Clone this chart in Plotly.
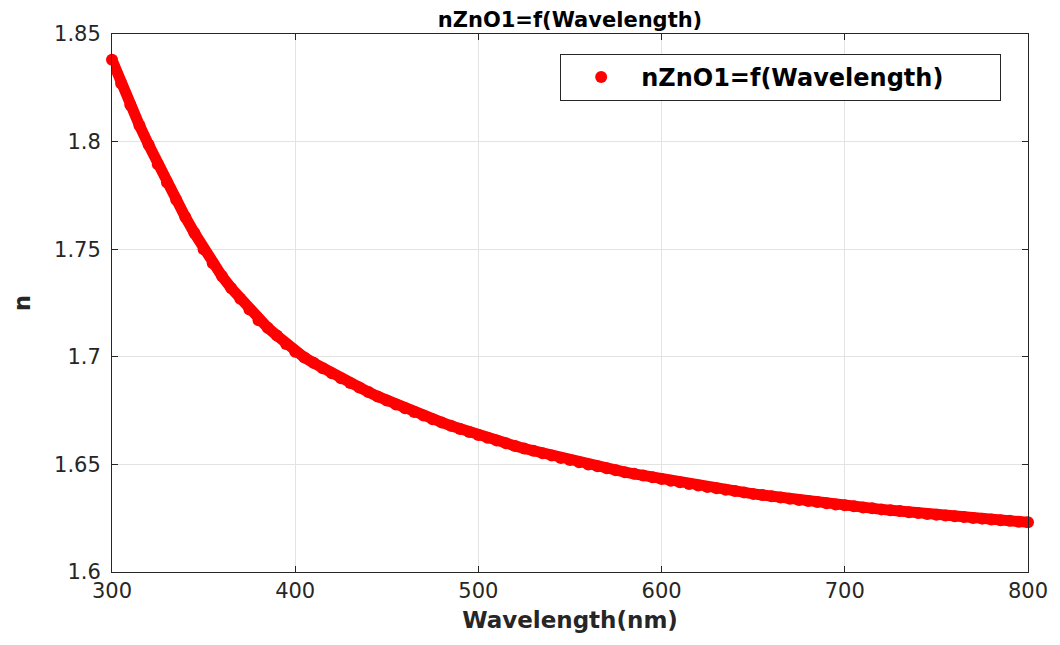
import plotly.graph_objects as go

wavelength = [300, 305, 310, 315, 320, 325, 330, 335, 340, 345,
              350, 355, 360, 365, 370, 375, 380, 385, 390, 395,
              400, 405, 410, 415, 420, 425, 430, 435, 440, 445,
              450, 455, 460, 465, 470, 475, 480, 485, 490, 495,
              500, 505, 510, 515, 520, 525, 530, 535, 540, 545,
              550, 555, 560, 565, 570, 575, 580, 585, 590, 595,
              600, 605, 610, 615, 620, 625, 630, 635, 640, 645,
              650, 655, 660, 665, 670, 675, 680, 685, 690, 695,
              700, 705, 710, 715, 720, 725, 730, 735, 740, 745,
              750, 755, 760, 765, 770, 775, 780, 785, 790, 795,
              800]

n_zno = [1.8380, 1.8270, 1.8170, 1.8075, 1.7985, 1.7895, 1.7810, 1.7730, 1.7650, 1.7575,
         1.7500, 1.7435, 1.7375, 1.7320, 1.7270, 1.7220, 1.7170, 1.7135, 1.7099, 1.7060,
         1.7024, 1.6997, 1.6972, 1.6947, 1.6923, 1.6900, 1.6878, 1.6857, 1.6836, 1.6816,
         1.6797, 1.6778, 1.6761, 1.6743, 1.6727, 1.6710, 1.6695, 1.6680, 1.6665, 1.6651,
         1.6637, 1.6624, 1.6611, 1.6598, 1.6586, 1.6574, 1.6563, 1.6552, 1.6541, 1.6530,
         1.6520, 1.6510, 1.6500, 1.6491, 1.6482, 1.6473, 1.6464, 1.6456, 1.6448, 1.6440,
         1.6432, 1.6424, 1.6417, 1.6409, 1.6402, 1.6395, 1.6389, 1.6382, 1.6376, 1.6370,
         1.6363, 1.6358, 1.6352, 1.6346, 1.6340, 1.6335, 1.6330, 1.6325, 1.6319, 1.6314,
         1.6310, 1.6305, 1.6300, 1.6296, 1.6291, 1.6287, 1.6283, 1.6278, 1.6274, 1.6270,
         1.6266, 1.6262, 1.6259, 1.6255, 1.6251, 1.6248, 1.6244, 1.6241, 1.6238, 1.6234,
         1.6231]

x_ticks = [300, 400, 500, 600, 700, 800]
y_ticks = [1.6, 1.65, 1.7, 1.75, 1.8, 1.85]
y_tick_text = ["1.6", "1.65", "1.7", "1.75", "1.8", "1.85"]

series_name = "nZnO1=f(Wavelength)"
title_text = "nZnO1=f(Wavelength)"
x_title = "Wavelength(nm)"
y_title = "n"

RED = "#ff0000"
AX = "#262626"
GRID = "#e3e3e3"
FONT = "DejaVu Sans"

W, H = 1052, 637  # page body adds an 8px margin

fig = go.Figure()
fig.add_trace(go.Scatter(
    x=wavelength, y=n_zno, mode="lines",
    line=dict(color=RED, width=11),
    showlegend=False, hoverinfo="skip",
))
fig.add_trace(go.Scatter(
    x=wavelength, y=n_zno, mode="markers",
    marker=dict(color=RED, size=12, line=dict(width=0)),
    name=series_name, cliponaxis=False,
))

fig.update_layout(
    width=W, height=H,
    margin=dict(l=104, r=24, t=26, b=73),
    paper_bgcolor="white", plot_bgcolor="white",
    title=dict(text=title_text, x=0.5, xref="paper",
               y=1 - 12 / H, yref="container", yanchor="middle", xanchor="center",
               font=dict(family=FONT, size=21, color="#000000", weight="bold")),
    legend=dict(
        x=0.9707, y=0.9628, xanchor="right", yanchor="top",
        orientation="h",
        bgcolor="white", bordercolor=AX, borderwidth=1,
        font=dict(family=FONT, size=24, color="#000000", weight="bold"),
        entrywidth=354, entrywidthmode="pixels",
        itemwidth=70,
    ),
    showlegend=True,
)

fig.update_xaxes(
    range=[300, 800], tickvals=x_ticks, ticktext=[str(v) for v in x_ticks],
    showline=True, linecolor=AX, linewidth=1, mirror="ticks",
    ticks="inside", ticklen=6, tickcolor=AX,
    showgrid=True, gridcolor=GRID, gridwidth=1, zeroline=False,
    tickfont=dict(family=FONT, size=21, color=AX),
    title=dict(text=x_title, standoff=9,
               font=dict(family=FONT, size=23, color=AX, weight="bold")),
)
fig.update_yaxes(
    range=[1.6, 1.85], tickvals=y_ticks, ticktext=y_tick_text,
    showline=True, linecolor=AX, linewidth=1, mirror="ticks",
    ticks="inside", ticklen=6, tickcolor=AX,
    showgrid=True, gridcolor=GRID, gridwidth=1, zeroline=False,
    tickfont=dict(family=FONT, size=21, color=AX),
    ticklabelstandoff=6,
    title=dict(text=y_title, standoff=16,
               font=dict(family=FONT, size=23, color=AX, weight="bold")),
)

fig.write_html("out.html")
